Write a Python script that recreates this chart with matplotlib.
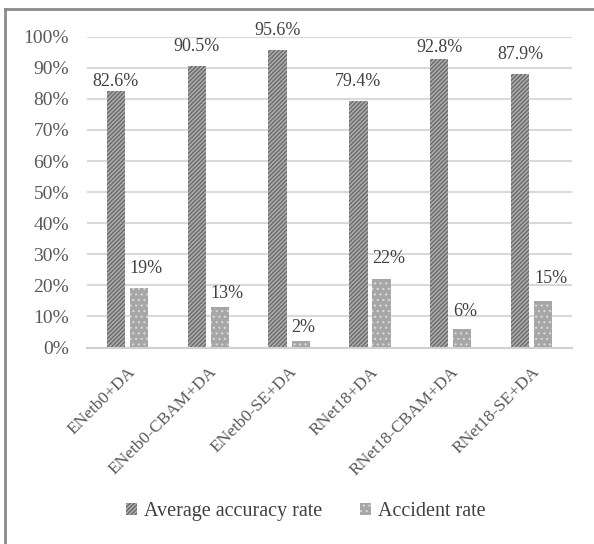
import numpy as np
import matplotlib.pyplot as plt
from matplotlib.lines import Line2D

# data
models = ["ENetb0+DA", "ENetb0-CBAM+DA", "ENetb0-SE+DA",
          "RNet18+DA", "RNet18-CBAM+DA", "RNet18-SE+DA"]
accuracy = [82.6, 90.5, 95.6, 79.4, 92.8, 87.9]
accident = [19, 13, 2, 22, 6, 15]

# label lift above bar top (in % units), labels were nudged by hand in the original
acc_lift = [1.6, 5.0, 5.0, 4.8, 2.4, 5.0]
acd_lift = [5.0, 2.8, 3.1, 5.3, 4.0, 5.9]

plt.rcParams['font.family'] = ['Liberation Serif', 'DejaVu Serif']
plt.rcParams['hatch.linewidth'] = 0.9

fig = plt.figure(figsize=(5.94, 5.44), dpi=100)
ax = fig.add_axes([0.1465, 0.3612, 0.8165, 0.5713])

x = np.arange(len(models))
w = 0.225
off = 0.1425

plt.rcParams['hatch.color'] = '#666666'
b1 = ax.bar(x - off, accuracy, w, color='#ababab', hatch='////////',
            edgecolor='#666666', linewidth=0, label="Average accuracy rate")
b2 = ax.bar(x + off, accident, w, color='#a6a6a6', hatch='...',
            edgecolor='#d6d6d6', linewidth=0, label="Accident rate")

for xi, v, d in zip(x - off, accuracy, acc_lift):
    ax.text(xi, v + d, f"{v:.1f}%", ha='center', va='baseline', fontsize=13, color='#404040')
for xi, v, d in zip(x + off - w / 2, accident, acd_lift):
    ax.text(xi, v + d, f"{v:d}%", ha='left', va='baseline', fontsize=13, color='#404040')

ax.set_ylim(0, 100)
ax.set_xlim(-0.5, len(models) - 0.5)
ax.set_yticks(np.arange(0, 101, 10))
ax.set_yticklabels([f"{t}%" for t in range(0, 101, 10)])
ax.yaxis.grid(True, color='#d9d9d9', linewidth=1.5)
ax.set_axisbelow(True)
for s in ['top', 'right', 'left']:
    ax.spines[s].set_visible(False)
ax.spines['bottom'].set_color('#d0d0d0')
ax.spines['bottom'].set_linewidth(1.5)
ax.tick_params(axis='both', length=0, colors='#595959')
ax.tick_params(axis='y', pad=13, labelsize=14)
ax.tick_params(axis='x', pad=12, labelsize=12.5)
ax.set_xticks(x)
ax.set_xticklabels(models, rotation=45, ha='right', rotation_mode='anchor')

leg = fig.legend(handles=[b1, b2], loc='center', bbox_to_anchor=(0.515, 0.06),
                 ncol=2, frameon=False, fontsize=14.5, handlelength=0.55, handleheight=0.55,
                 columnspacing=1.9, handletextpad=0.35)
for t in leg.get_texts():
    t.set_color('#404040')

# outer frame (only top and left edges show in the original crop)
top_y = 1 - 9 / 544
left_x = 4.5 / 594
fig.lines.append(Line2D([left_x, 1], [top_y, top_y], transform=fig.transFigure,
                        color='#8c8c8c', linewidth=2))
fig.lines.append(Line2D([left_x, left_x], [0, top_y], transform=fig.transFigure,
                        color='#8c8c8c', linewidth=2))

fig.savefig("out.png", dpi=100)
